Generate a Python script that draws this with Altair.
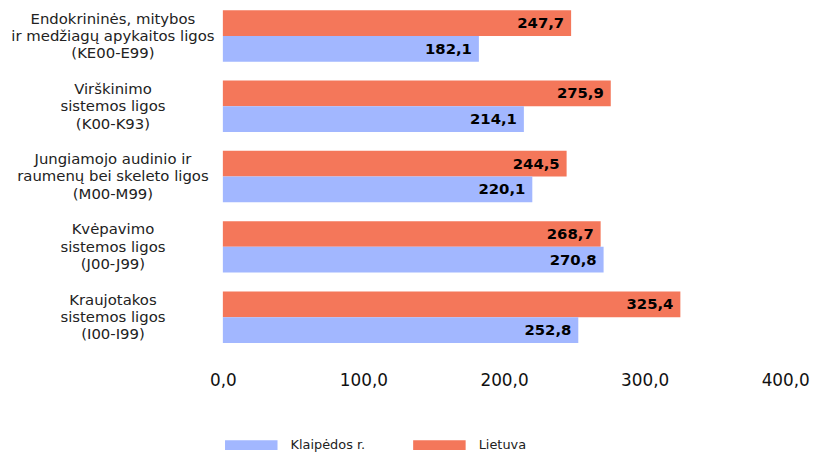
import altair as alt
import pandas as pd

categories = [
    "Endokrininės, mitybos\nir medžiagų apykaitos ligos\n(KE00-E99)",
    "Virškinimo\nsistemos ligos\n(K00-K93)",
    "Jungiamojo audinio ir\nraumenų bei skeleto ligos\n(M00-M99)",
    "Kvėpavimo\nsistemos ligos\n(J00-J99)",
    "Kraujotakos\nsistemos ligos\n(I00-I99)",
]
lietuva = [247.7, 275.9, 244.5, 268.7, 325.4]
klaipedos = [182.1, 214.1, 220.1, 270.8, 252.8]
series = ["Klaipėdos r.", "Lietuva"]
colors = ["#A2B7FF", "#F4775A"]
x_ticks = [0, 100, 200, 300, 400]

rows = []
for c, lt, kl in zip(categories, lietuva, klaipedos):
    rows.append({"cat": c, "series": "Lietuva", "value": lt})
    rows.append({"cat": c, "series": "Klaipėdos r.", "value": kl})
df = pd.DataFrame(rows)

FONT = "DejaVu Sans"

base = alt.Chart(df).encode(
    y=alt.Y("cat:N", sort=categories, title=None,
            scale=alt.Scale(paddingInner=0.268, paddingOuter=0),
            axis=alt.Axis(domain=False, ticks=False, labelAlign="center",
                          labelBaseline="middle", labelPadding=111.5,
                          labelOffset=-17.5,
                          labelExpr="split(datum.label, '\\n')",
                          labelFont=FONT, labelFontSize=15, labelColor="#222222",
                          labelLineHeight=17.5, labelLimit=400)),
    yOffset=alt.YOffset("series:N", sort=["Lietuva", "Klaipėdos r."],
                        scale=alt.Scale(paddingInner=0, paddingOuter=0)),
)

bars = base.mark_bar().encode(
    x=alt.X("value:Q", title=None,
            scale=alt.Scale(domain=[0, 400], nice=False),
            axis=alt.Axis(values=x_ticks, domain=False, ticks=False, grid=False,
                          labelExpr="replace(format(datum.value, '.1f'), '.', ',')",
                          labelFont=FONT, labelFontSize=17, labelColor="#111111",
                          labelPadding=30, labelFlush=False)),
    color=alt.Color("series:N", scale=alt.Scale(domain=series, range=colors),
                    legend=alt.Legend(title=None, orient="none", direction="horizontal",
                                      legendX=22.2, legendY=432.5, columns=2,
                                      symbolType="M-5,-0.94L5,-0.94L5,0.94L-5,0.94Z",
                                      symbolSize=112.4, symbolStrokeWidth=0,
                                      symbolOpacity=1,
                                      labelFont=FONT, labelFontSize=13, labelColor="#222222",
                                      labelOffset=33.2, columnPadding=47, padding=0)),
)

texts = base.mark_text(align="right", baseline="middle", dx=-7, font=FONT,
                       fontSize=15, fontWeight="bold", color="#000000").transform_calculate(
    lbl="replace(format(datum.value, '.1f'), '.', ',')"
).encode(
    x=alt.X("value:Q"),
    text=alt.Text("lbl:N"),
)

chart = (bars + texts).properties(
    width=568, height=336,
    autosize=alt.AutoSizeParams(type="none"),
    padding={"left": 217, "top": 0, "right": 25, "bottom": 112},
).configure_view(stroke=None)

chart.save("out.html", embed_options={"renderer": "svg", "actions": False})
